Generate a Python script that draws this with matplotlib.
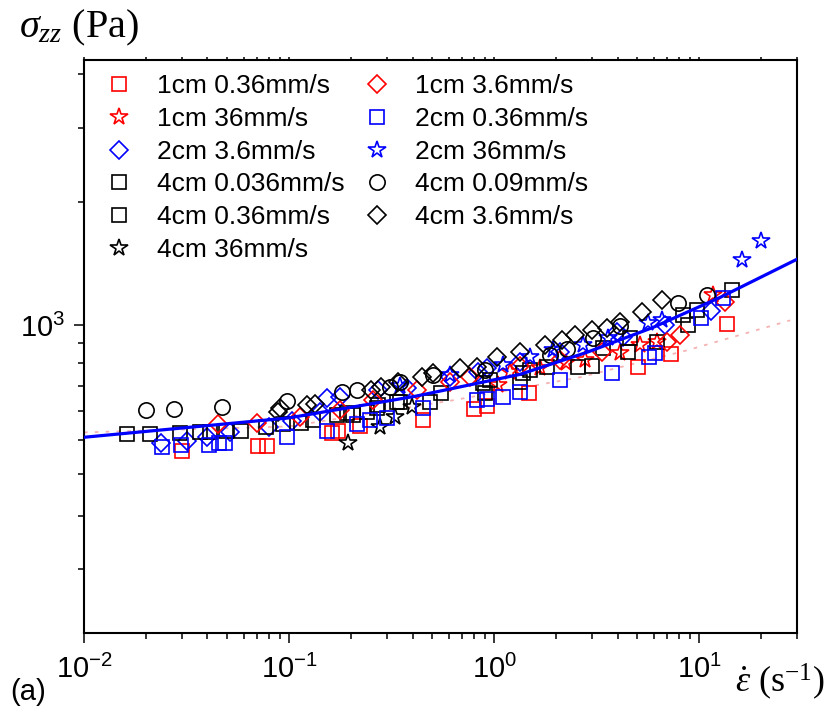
import numpy as np
import matplotlib as mpl
import matplotlib.pyplot as plt
from matplotlib import ticker

mpl.rcParams['font.family'] = 'Liberation Sans'
mpl.rcParams['mathtext.fontset'] = 'custom'
mpl.rcParams['mathtext.rm'] = 'Liberation Serif'
mpl.rcParams['mathtext.it'] = 'Liberation Serif:italic'
mpl.rcParams['mathtext.sf'] = 'Liberation Sans'

# strain rate (1/s) and stress (Pa)
x_1cm_036 = [0.0301, 0.0706, 0.0781, 0.162, 0.173, 0.222, 0.450, 0.799, 0.925, 1.48, 5.04, 7.30, 13.7]
y_1cm_036 = [464, 479, 479, 521, 528, 545, 565, 605, 617, 668, 781, 844, 1006]

x_1cm_36 = [0.0450, 0.0698, 0.113, 0.177, 0.257, 0.421, 0.610, 0.764, 1.34, 2.10, 3.36, 6.98, 8.08, 13.4]
y_1cm_36 = [552, 555, 576, 602, 640, 680, 714, 736, 786, 815, 854, 906, 944, 1142]

x_1cm_360 = [1.05, 1.20, 1.68, 2.25, 2.78, 4.12, 5.16, 6.24, 11.7]
y_1cm_360 = [701, 758, 777, 800, 815, 849, 890, 906, 1189]

x_2cm_036 = [0.0240, 0.0297, 0.0407, 0.0456, 0.0487, 0.0978, 0.153, 0.215, 0.248, 0.301, 0.450,
             0.826, 0.925, 1.11, 1.34, 2.10, 3.76, 5.70, 6.10, 10.2, 13.1]
y_2cm_036 = [476, 483, 483, 489, 489, 508, 528, 552, 565, 572, 609,
             640, 644, 652, 672, 723, 754, 829, 849, 1042, 1168]

x_2cm_36 = [0.0237, 0.0318, 0.0398, 0.0516, 0.0799, 0.103, 0.142, 0.153, 0.177, 0.272, 0.376,
            0.610, 0.836, 0.925, 1.34, 2.10, 3.98, 4.26, 6.83, 11.4]
y_2cm_36 = [489, 495, 508, 524, 541, 562, 594, 648, 652, 680, 689,
            736, 758, 777, 805, 854, 960, 933, 1000, 1085]

x_2cm_360 = [0.348, 0.610, 1.11, 1.50, 1.94, 2.72, 3.60, 5.64, 6.60, 16.2, 20.1]
y_2cm_360 = [697, 745, 790, 829, 864, 890, 927, 1012, 1030, 1449, 1612]

x_4cm_0036 = [0.0162, 0.0210, 0.0294, 0.0368, 0.0412, 0.0493, 0.0583, 0.0772, 0.0935, 0.114,
              0.131, 0.172, 0.192, 0.240, 0.269, 0.348, 0.487, 0.551]
y_4cm_0036 = [518, 518, 521, 524, 524, 528, 528, 541, 552, 555,
              565, 583, 591, 594, 609, 632, 632, 668]

x_4cm_009 = [0.0201, 0.0275, 0.0471, 0.0978, 0.181, 0.215, 0.311, 0.348, 0.504, 0.904,
             1.88, 2.27, 3.04, 4.12, 7.90, 10.9]
y_4cm_009 = [602, 605, 613, 636, 672, 680, 693, 714, 745, 768,
             839, 869, 927, 994, 1135, 1189]

x_4cm_036 = [0.205, 0.272, 0.336, 0.884, 0.956, 0.904, 1.34, 1.385, 1.50, 1.81, 2.57, 3.01,
             3.40, 4.50, 4.61, 6.24, 8.36, 8.84, 9.78, 14.5]
y_4cm_036 = [583, 620, 632, 710, 723, 668, 714, 754, 768, 781, 781, 786,
             874, 854, 927, 906, 1060, 1000, 1091, 1223]

x_4cm_36 = [0.0884, 0.0904, 0.122, 0.134, 0.251, 0.281, 0.340, 0.445, 0.504, 0.682, 0.826,
            1.03, 1.34, 1.77, 2.15, 2.48, 3.01, 3.56, 4.12, 5.27, 6.60]
y_4cm_36 = [594, 609, 620, 624, 680, 693, 714, 736, 754, 777, 781,
            829, 854, 890, 916, 944, 971, 983, 1018, 1078, 1155]

x_4cm_360 = [0.194, 0.278, 0.329, 0.398]
y_4cm_360 = [489, 541, 576, 613]

# fitted curves
fit_x = [0.01, 0.1, 0.413, 1.34, 2.84, 5.97, 12.7, 30]
fit_y = [508, 574, 656, 749, 854, 988, 1175, 1457]
fit2_x = [0.01, 0.1, 0.63, 2.63, 8.74, 27.8]
fit2_y = [524, 544, 640, 736, 864, 1029]

RED, BLUE, BLACK = '#ff0000', '#0000ff', '#000000'

# legend order (column by column)
series = [
    ('1cm 0.36mm/s', x_1cm_036, y_1cm_036, 's', RED, 10),
    ('1cm 36mm/s', x_1cm_360, y_1cm_360, '*', RED, 13),
    ('2cm 3.6mm/s', x_2cm_36, y_2cm_36, 'D', BLUE, 9.5),
    ('4cm 0.036mm/s', x_4cm_0036, y_4cm_0036, 's', BLACK, 10),
    ('4cm 0.36mm/s', x_4cm_036, y_4cm_036, 's', BLACK, 10),
    ('4cm 36mm/s', x_4cm_360, y_4cm_360, '*', BLACK, 13),
    ('1cm 3.6mm/s', x_1cm_36, y_1cm_36, 'D', RED, 9.5),
    ('2cm 0.36mm/s', x_2cm_036, y_2cm_036, 's', BLUE, 10),
    ('2cm 36mm/s', x_2cm_360, y_2cm_360, '*', BLUE, 13),
    ('4cm 0.09mm/s', x_4cm_009, y_4cm_009, 'o', BLACK, 11),
    ('4cm 3.6mm/s', x_4cm_36, y_4cm_36, 'D', BLACK, 9.5),
]

OFF = 113.0


def fwd(y):
    return np.log10(np.maximum(np.asarray(y, dtype=float) + OFF, 1e-9))


def inv(v):
    return 10.0 ** np.asarray(v, dtype=float) - OFF


fig = plt.figure(figsize=(8.35, 7.18), dpi=100)
ax = fig.add_axes([84 / 835, 1 - 633 / 718, 713 / 835, 573 / 718])

ax.plot(fit2_x, fit2_y, color='#f08080', lw=1.3, ls=(0, (2, 4)), alpha=0.6, zorder=1)

handles = []
for label, xs, ys, mk, col, ms in series:
    h, = ax.plot(xs, ys, ls='none', marker=mk, ms=ms, mfc='none', mec=col,
                 mew=1.2, label=label, zorder=2)
    handles.append(h)

ax.plot(fit_x, fit_y, color=BLUE, lw=2.3, zorder=3)

ax.set_xscale('log')
ax.set_yscale('function', functions=(fwd, inv))
ax.set_xlim(0.01, 30)
ax.set_ylim(111, 4320)

ax.xaxis.set_major_locator(ticker.FixedLocator([0.01, 0.1, 1, 10]))
ax.xaxis.set_major_formatter(ticker.FixedFormatter(
    [r'$\mathsf{10^{-2}}$', r'$\mathsf{10^{-1}}$', r'$\mathsf{10^{0}}$', r'$\mathsf{10^{1}}$']))
ax.xaxis.set_minor_locator(ticker.LogLocator(base=10, subs=np.arange(2, 10), numticks=20))
ax.xaxis.set_minor_formatter(ticker.NullFormatter())

ax.yaxis.set_major_locator(ticker.FixedLocator([1000]))
ax.yaxis.set_major_formatter(ticker.FixedFormatter([r'$\mathsf{10^{3}}$']))
ax.yaxis.set_minor_locator(ticker.FixedLocator([200, 300, 400, 500, 600, 700, 800, 900, 2000, 3000, 4000]))
ax.yaxis.set_minor_formatter(ticker.NullFormatter())

for s in ax.spines.values():
    s.set_linewidth(1.5)

ax.tick_params(which='both', direction='out', top=True, right=False, width=1.1, labelsize=21)
ax.tick_params(which='major', length=7.5, pad=6)
ax.tick_params(which='minor', length=4)
ax.tick_params(axis='x', which='major', pad=8)
# tiny ticks on the top edge
ax.tick_params(axis='x', which='both', top=True, labeltop=False)
for t in ax.xaxis.get_major_ticks() + ax.xaxis.get_minor_ticks():
    t.tick2line.set_markersize(2)

ax.legend(handles=handles, ncol=2, loc='upper left', bbox_to_anchor=(0.0126, 0.975),
          frameon=False, fontsize=19, handlelength=2.0, handletextpad=0.42,
          columnspacing=0.25, labelspacing=0.33, borderpad=0, borderaxespad=0,
          numpoints=1)

fig.text(19 / 835, 1 - 28 / 718, r'$\sigma_{zz}$ (Pa)', family='Liberation Serif',
         fontsize=29, va='center', ha='left')
fig.text(735 / 835, 1 - 682 / 718, r'$\dot{\varepsilon}$ (s$^{\mathrm{-1}}$)',
         family='Liberation Serif', fontsize=26, va='center', ha='left')
fig.text(10 / 835, 1 - 692 / 718, '(a)', fontsize=21, va='center', ha='left')

fig.savefig('out.png', dpi=100)
